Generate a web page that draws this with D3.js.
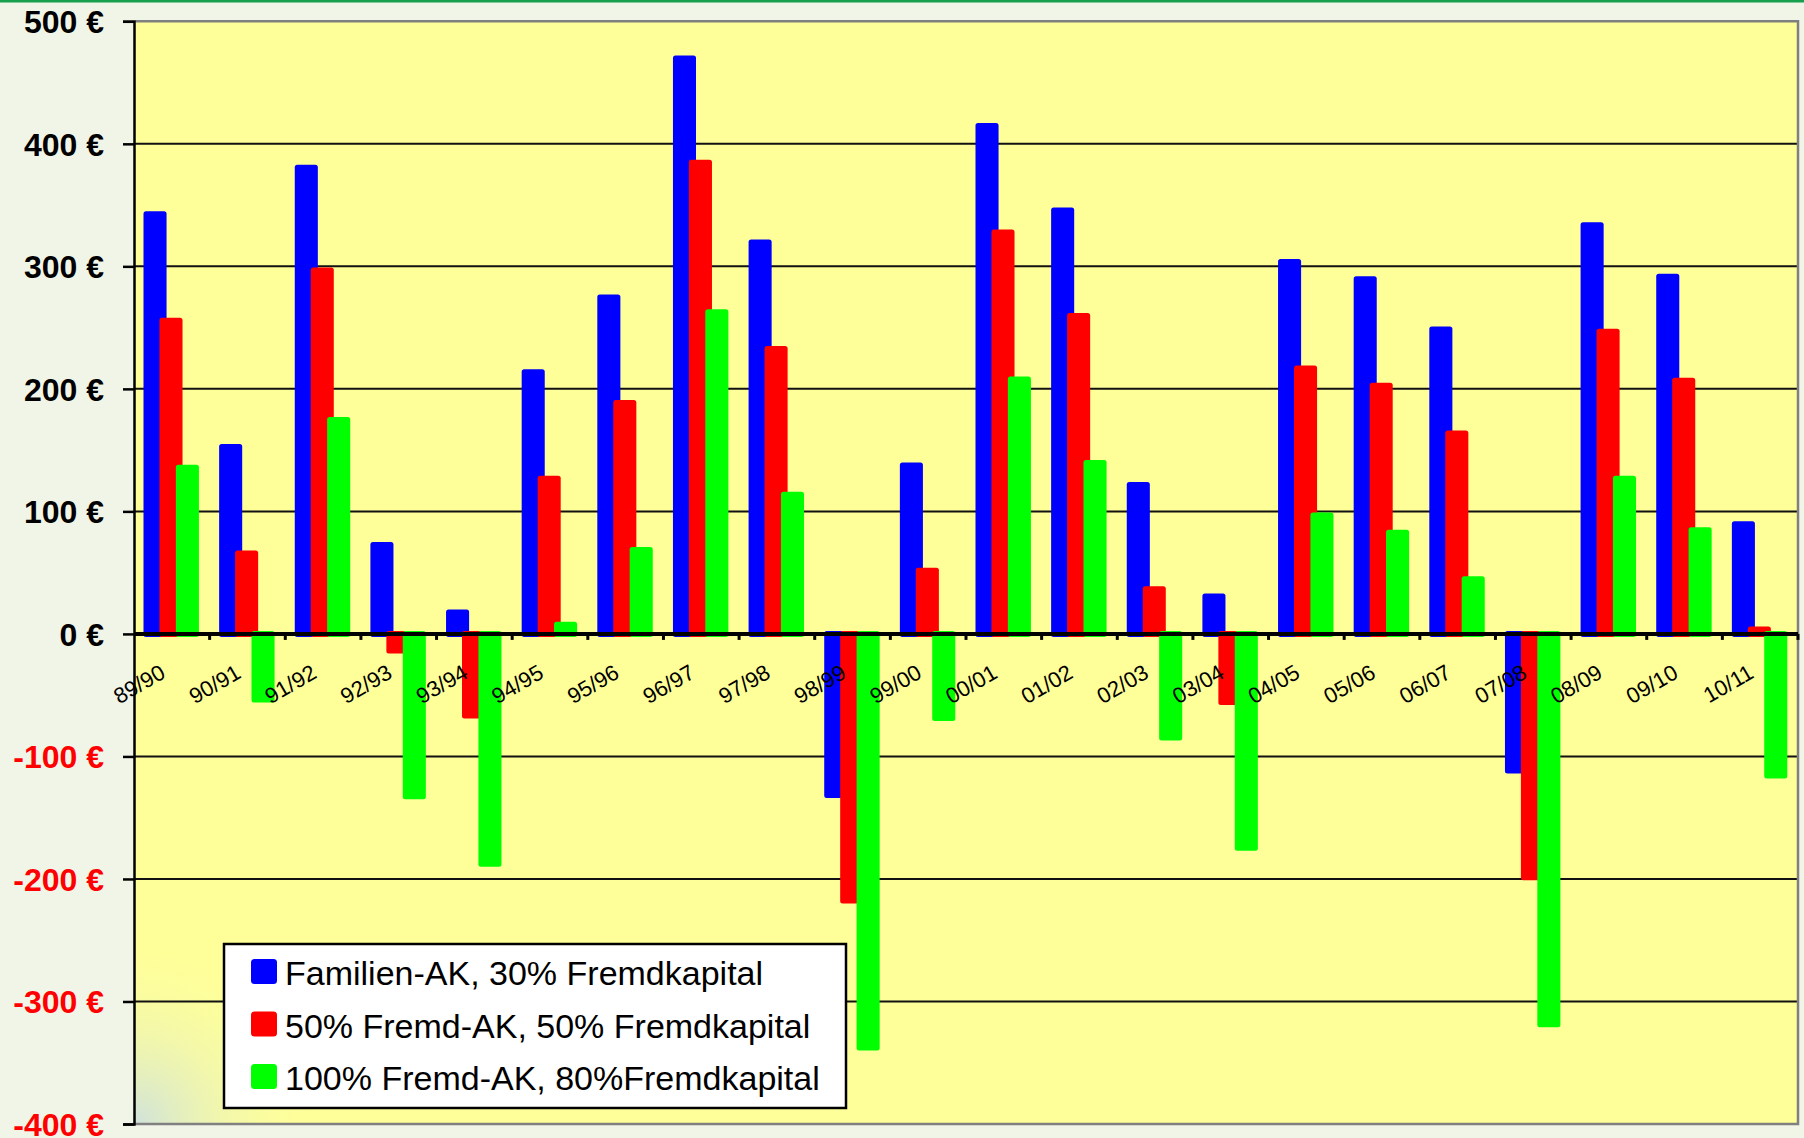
<!DOCTYPE html>
<html>
<head>
<meta charset="utf-8">
<script src="https://cdn.jsdelivr.net/npm/d3@7"></script>
<style>
  body { margin: 0; background: #f1f5e7; }
  svg { display: block; font-family: "Liberation Sans", Arial, sans-serif; }
</style>
</head>
<body>
<svg width="1804" height="1138"></svg>
<script>
// categories (seasons)
var years = ["89/90","90/91","91/92","92/93","93/94","94/95","95/96","96/97","97/98","98/99","99/00",
             "00/01","01/02","02/03","03/04","04/05","05/06","06/07","07/08","08/09","09/10","10/11"]

// series values in euro
var familienAK = [345,155,383,75,20,216,277,472,322,-134,140,417,348,124,33,306,292,251,-114,336,294,92]
var fremd50    = [258,68,299,-16,-69,129,191,387,235,-220,54,330,262,39,-58,219,205,166,-201,249,209,6]
var fremd100   = [138,-56,177,-135,-190,10,71,265,116,-340,-71,210,142,-87,-177,99,85,47,-321,129,87,-118]

var seriesNames = ["Familien-AK, 30% Fremdkapital", "50% Fremd-AK, 50% Fremdkapital", "100% Fremd-AK, 80%Fremdkapital"]
var yTicks = [500,400,300,200,100,0,-100,-200,-300,-400]

var colors = ["#0000ff", "#ff0000", "#00ff00"]
var series = [familienAK, fremd50, fremd100]

var svg = d3.select("svg")
// plot edges (window.top is reserved, so use other names)
var pL = 134, pR = 1798, pT = 21.3, pB = 1124

var x = d3.scaleBand().domain(years).range([pL, pR]).padding(0)
var y = d3.scaleLinear().domain([-400, 500]).range([pB, pT])
var bw = x.bandwidth()

// corner shading in plot area
var defs = svg.append("defs")
var rg = defs.append("radialGradient").attr("id", "corner")
  .attr("gradientUnits", "userSpaceOnUse")
  .attr("cx", pL).attr("cy", pB).attr("r", 190)
rg.append("stop").attr("offset", "0%").attr("stop-color", "#cfe2dc")
rg.append("stop").attr("offset", "100%").attr("stop-color", "#ffff99").attr("stop-opacity", 0)

// top green line
svg.append("rect").attr("x", 0).attr("y", 0).attr("width", 1804).attr("height", 2.5).attr("fill", "#16a04e")

// plot area
svg.append("rect")
  .attr("x", pL).attr("y", pT).attr("width", pR - pL).attr("height", pB - pT)
  .attr("fill", "#ffff99")
svg.append("rect")
  .attr("x", pL).attr("y", pT).attr("width", pR - pL).attr("height", pB - pT)
  .attr("fill", "url(#corner)")

// gridlines
svg.selectAll("line.grid")
  .data(yTicks.filter(function(d){ return d != 0 && d != -400 && d != 500 }))
  .enter().append("line")
    .attr("class", "grid")
    .attr("x1", pL).attr("x2", pR)
    .attr("y1", function(d){ return y(d) }).attr("y2", function(d){ return y(d) })
    .attr("stroke", "#111").attr("stroke-width", 2)

// border (top/right/bottom gray)
svg.append("path")
  .attr("d", `M${pL},${pT}H${pR}V${pB}H${pL}`)
  .attr("fill", "none").attr("stroke", "#808080").attr("stroke-width", 2.5)

// bars
var offs = [0.278, 0.489, 0.706]
var barW = bw * 0.305
series.forEach(function(vals, si){
  svg.append("g").selectAll("rect")
    .data(vals)
    .enter().append("rect")
      .attr("x", function(d, i){ return x(years[i]) + bw * offs[si] - barW / 2 })
      .attr("y", function(d){ return d >= 0 ? y(d) : y(0) - 3 })
      .attr("width", barW)
      .attr("height", function(d){ return Math.abs(y(d) - y(0)) + 3 })
      .attr("rx", 2.5)
      .attr("fill", colors[si])
})

// zero line + ticks
svg.append("line")
  .attr("x1", pL).attr("x2", pR).attr("y1", y(0)).attr("y2", y(0))
  .attr("stroke", "#000").attr("stroke-width", 4)
svg.selectAll("line.xt")
  .data(years)
  .enter().append("line")
    .attr("x1", function(d){ return x(d) + bw }).attr("x2", function(d){ return x(d) + bw })
    .attr("y1", y(0)).attr("y2", y(0) + 6)
    .attr("stroke", "#000").attr("stroke-width", 3)

// y axis
var yAxis = d3.axisLeft(y).tickValues(yTicks).tickSize(11).tickFormat(function(d){ return d + " €" })
var ya = svg.append("g").attr("transform", `translate(${pL},0)`).call(yAxis)
ya.select(".domain").attr("stroke", "#000").attr("stroke-width", 2.5)
ya.selectAll(".tick line").attr("stroke", "#000").attr("stroke-width", 2.5)
ya.selectAll(".tick text")
  .attr("x", -30)
  .attr("dy", "0.35em")
  .style("font-family", "'Liberation Sans', Arial, sans-serif")
  .style("font-size", "32px")
  .style("font-weight", "bold")
  .attr("fill", function(d){ return d < 0 ? "#ff0000" : "#000" })

// x labels
svg.selectAll("text.xl")
  .data(years)
  .enter().append("text")
    .attr("class", "xl")
    .attr("text-anchor", "end")
    .attr("transform", function(d){ return `translate(${x(d) + bw / 2 - 5},${y(0) + 43}) rotate(-30)` })
    .style("font-size", "22px")
    .attr("fill", "#000")
    .text(function(d){ return d })

// legend
var lg = svg.append("g")
lg.append("rect")
  .attr("x", 224).attr("y", 944).attr("width", 622).attr("height", 164)
  .attr("fill", "#fff").attr("stroke", "#000").attr("stroke-width", 2.5)
var items = lg.selectAll("g.item")
  .data(seriesNames)
  .enter().append("g")
    .attr("transform", function(d, i){ return `translate(251,${959 + i * 52.5})` })
items.append("rect")
  .attr("width", 26).attr("height", 25).attr("rx", 3.5)
  .attr("fill", function(d, i){ return colors[i] })
items.append("text")
  .attr("x", 34).attr("y", 26)
  .style("font-size", "34px")
  .attr("fill", "#000")
  .text(function(d){ return d })
</script>
</body>
</html>
